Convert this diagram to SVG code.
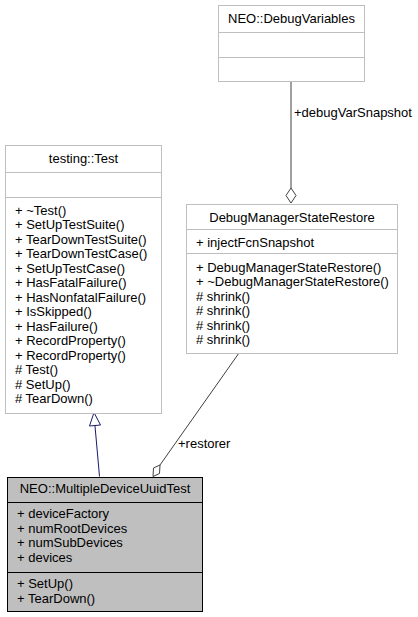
<svg xmlns="http://www.w3.org/2000/svg" width="418" height="617" viewBox="0 0 418 617">
<style>
text{font-family:"Liberation Sans",Arial,sans-serif;font-size:13px;fill:#000}
.t{text-anchor:middle}
.box{fill:#fff;stroke:#bfbfbf;stroke-width:1}
.sep{stroke:#bfbfbf;stroke-width:1}
.fbox{fill:#bfbfbf;stroke:#000;stroke-width:1}
.fsep{stroke:#000;stroke-width:1}
.assoc{fill:none;stroke:#404040;stroke-width:1}
.inh{fill:none;stroke:#191970;stroke-width:1}
</style>
<rect width="418" height="617" fill="#fff"/>
<g id="connectors">
<path class="inh" d="M99.5,476.5 L95,426"/>
<polygon points="94,412.5 89.5,426 100.5,425" fill="#fff" stroke="#191970"/>
<path class="assoc" d="M291,81 L291,188"/>
<polygon points="291,188 296,195.5 291,203 286,195.5" fill="#fff" stroke="#404040"/>
<text x="294" y="117">+debugVarSnapshot</text>
<path class="assoc" d="M239,353 L160,465"/>
<polygon points="160,465 159.5,473.5 153,476.5 153.5,468" fill="#fff" stroke="#404040"/>
<text x="178" y="448">+restorer</text>
</g>
<g id="node_DebugVariables">
<rect class="box" x="218.5" y="5.5" width="146" height="76"/>
<line class="sep" x1="218.5" y1="32.5" x2="364.5" y2="32.5"/>
<line class="sep" x1="218.5" y1="57.5" x2="364.5" y2="57.5"/>
<text class="t" x="291.5" y="23">NEO::DebugVariables</text>
</g>
<g id="node_DebugManagerStateRestore">
<rect class="box" x="186.5" y="204.5" width="211" height="149"/>
<line class="sep" x1="186.5" y1="229.5" x2="397.5" y2="229.5"/>
<line class="sep" x1="186.5" y1="253.5" x2="397.5" y2="253.5"/>
<text class="t" x="292" y="222">DebugManagerStateRestore</text>
<text x="196" y="246.5">+ injectFcnSnapshot</text>
<text x="196" y="271.5">+ DebugManagerStateRestore()</text>
<text x="196" y="286">+ ~DebugManagerStateRestore()</text>
<text x="196" y="300.5"># shrink()</text>
<text x="196" y="315"># shrink()</text>
<text x="196" y="329.5"># shrink()</text>
<text x="196" y="344"># shrink()</text>
</g>
<g id="node_testing_Test">
<rect class="box" x="5.5" y="145.5" width="156" height="268"/>
<line class="sep" x1="5.5" y1="172.5" x2="161.5" y2="172.5"/>
<line class="sep" x1="5.5" y1="197.5" x2="161.5" y2="197.5"/>
<text class="t" x="83.5" y="163">testing::Test</text>
<text x="15" y="214.5">+ ~Test()</text>
<text x="15" y="229">+ SetUpTestSuite()</text>
<text x="15" y="243.5">+ TearDownTestSuite()</text>
<text x="15" y="258">+ TearDownTestCase()</text>
<text x="15" y="272.5">+ SetUpTestCase()</text>
<text x="15" y="287">+ HasFatalFailure()</text>
<text x="15" y="301.5">+ HasNonfatalFailure()</text>
<text x="15" y="316">+ IsSkipped()</text>
<text x="15" y="330.5">+ HasFailure()</text>
<text x="15" y="345">+ RecordProperty()</text>
<text x="15" y="359.5">+ RecordProperty()</text>
<text x="15" y="374"># Test()</text>
<text x="15" y="388.5"># SetUp()</text>
<text x="15" y="403"># TearDown()</text>
</g>
<g id="node_MultipleDeviceUuidTest">
<rect class="fbox" x="7.5" y="477.5" width="195" height="134"/>
<line class="fsep" x1="7.5" y1="502.5" x2="202.5" y2="502.5"/>
<line class="fsep" x1="7.5" y1="572.5" x2="202.5" y2="572.5"/>
<text class="t" x="105" y="493">NEO::MultipleDeviceUuidTest</text>
<text x="17" y="518">+ deviceFactory</text>
<text x="17" y="532.5">+ numRootDevices</text>
<text x="17" y="547">+ numSubDevices</text>
<text x="17" y="561.5">+ devices</text>
<text x="17" y="588">+ SetUp()</text>
<text x="17" y="602.5">+ TearDown()</text>
</g>
</svg>
